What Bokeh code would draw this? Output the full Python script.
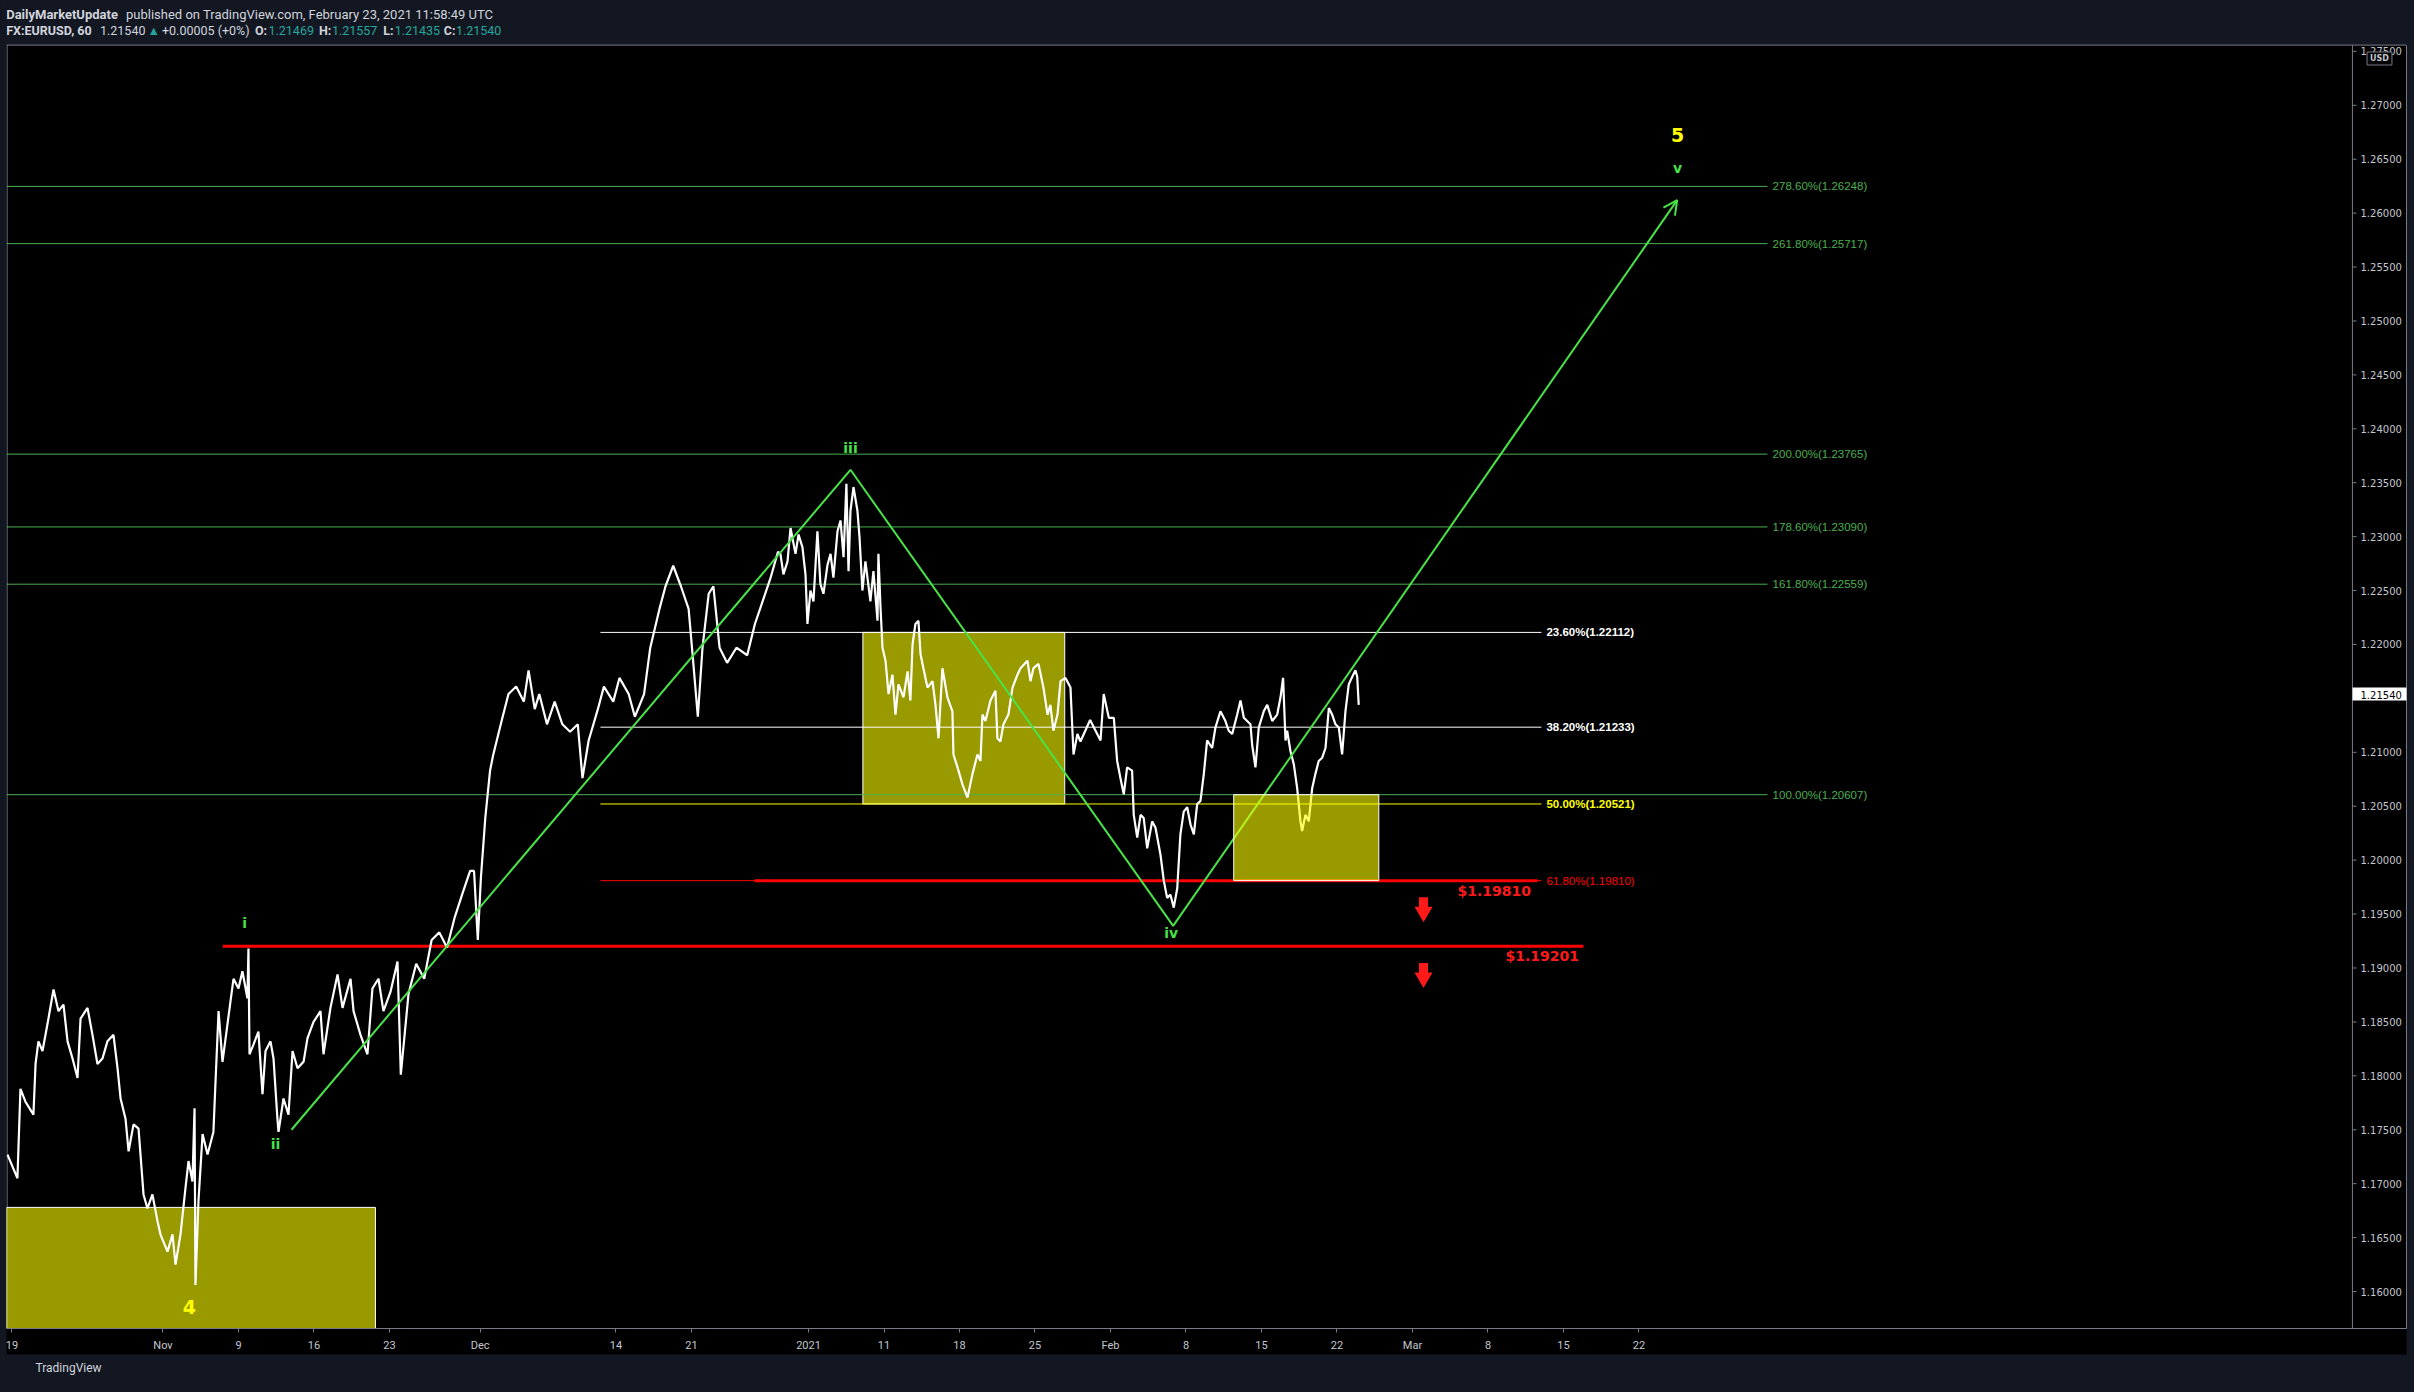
from bokeh.plotting import figure
from bokeh.models import (Range1d, FixedTicker, PrintfTickFormatter, Label, Arrow,
                          OpenHead, GlobalInlineStyleSheet, Title)
from bokeh.embed import file_html
from bokeh.resources import INLINE

# ---------------- data ----------------
# x = trading days since Mon 19 Oct 2020 (chart position), y = EURUSD price
price_day = [-0.30, 0.36, 0.56, 0.89, 1.42, 1.56, 1.75, 2.02, 2.35, 2.75, 3.08, 3.41, 3.68, 4.01,
             4.34, 4.54, 5.00, 5.33, 5.66, 5.99, 6.32, 6.72, 6.99, 7.19, 7.52, 7.72, 8.05, 8.38,
             8.71, 8.97, 9.30, 9.64, 9.83, 10.30, 10.63, 10.83, 11.16, 11.49, 11.69, 11.95, 12.09,
             12.15, 12.35, 12.62, 12.95, 13.34, 13.48, 13.68, 13.94, 14.47, 14.67, 15.00, 15.26,
             15.59, 15.66, 15.73, 15.99, 16.32, 16.59, 16.79, 17.12, 17.32, 17.58, 17.65, 17.98,
             18.31, 18.58, 18.91, 19.31, 19.57, 19.97, 20.43, 20.63, 21.09, 21.56, 21.89, 22.42,
             22.62, 23.08, 23.54, 23.87, 24.27, 24.60, 25.07, 25.53, 25.75, 26.26, 26.77, 27.30,
             27.79, 28.30, 28.81, 29.32, 29.83, 30.34, 30.60, 30.85, 31.05, 31.35, 31.66, 31.86,
             32.37, 32.88, 33.39, 33.90, 34.21, 34.62, 34.92, 35.43, 35.94, 36.45, 36.96, 37.47,
             37.78, 38.19, 38.80, 39.20, 39.82, 40.23, 40.84, 41.25, 41.86, 42.27, 42.88, 43.28,
             43.79, 44.30, 44.81, 45.12, 45.42, 45.73, 46.14, 46.45, 46.86, 47.36, 47.98, 48.69,
             49.20, 49.71, 50.22, 50.73, 50.89, 51.09, 51.36, 51.56, 51.89, 52.09, 52.35, 52.55,
             52.68, 52.88, 53.08, 53.34, 53.54, 53.74, 54.01, 54.21, 54.40, 54.67, 54.87, 55.07,
             55.26, 55.40, 55.53, 55.73, 55.99, 56.13, 56.32, 56.52, 56.85, 57.05, 57.32, 57.38,
             57.52, 57.65, 57.85, 58.05, 58.31, 58.51, 58.71, 59.04, 59.31, 59.50, 59.64, 59.83,
             60.03, 60.17, 60.36, 60.63, 60.96, 61.16, 61.36, 61.62, 61.95, 62.28, 62.35, 62.62,
             62.95, 63.28, 63.61, 63.94, 64.14, 64.27, 64.47, 64.80, 65.13, 65.26, 65.46, 65.66,
             65.99, 66.26, 66.59, 66.79, 67.25, 67.45, 67.65, 67.98, 68.31, 68.58, 68.77, 68.97,
             69.24, 69.44, 69.77, 70.10, 70.30, 70.56, 70.76, 71.40, 72.09, 72.30, 72.64, 72.97,
             73.19, 73.41, 73.63, 73.85, 74.18, 74.29, 74.52, 74.74, 74.95, 75.18, 75.51, 75.73,
             76.06, 76.28, 76.50, 76.72, 76.94, 77.17, 77.38, 77.60, 77.83, 78.05, 78.27, 78.49,
             78.71, 78.93, 79.15, 79.48, 79.70, 80.03, 80.36, 80.58, 80.81, 81.14, 81.36, 81.58,
             81.80, 82.02, 82.13, 82.35, 82.57, 82.90, 83.13, 83.46, 83.79, 84.01, 84.18, 84.34,
             84.45, 84.67, 84.89, 85.11, 85.33, 85.44, 85.66, 85.88, 86.11, 86.32, 86.54, 86.77,
             86.99, 87.21, 87.43, 87.65, 87.87, 88.09, 88.31, 88.53, 88.76, 88.97, 89.09, 89.19]
price_val = [1.1727, 1.1705, 1.1788, 1.1776, 1.1764, 1.1811, 1.1832, 1.1823, 1.1848, 1.1880, 1.1860,
             1.1866, 1.1832, 1.1816, 1.1798, 1.1853, 1.1863, 1.1838, 1.1811, 1.1816, 1.1832, 1.1838,
             1.1807, 1.1779, 1.1760, 1.1730, 1.1755, 1.1751, 1.1690, 1.1677, 1.1690, 1.1665, 1.1653,
             1.1637, 1.1653, 1.1625, 1.1653, 1.1696, 1.1721, 1.1702, 1.1770, 1.1606, 1.1684, 1.1746,
             1.1727, 1.1748, 1.1795, 1.1860, 1.1813, 1.1869, 1.1890, 1.1881, 1.1897, 1.1872, 1.1918,
             1.1820, 1.1829, 1.1841, 1.1783, 1.1823, 1.1832, 1.1816, 1.1760, 1.1748, 1.1779, 1.1764,
             1.1823, 1.1807, 1.1813, 1.1835, 1.1850, 1.1860, 1.1820, 1.1863, 1.1894, 1.1863, 1.1890,
             1.1860, 1.1838, 1.1820, 1.1881, 1.1890, 1.1860, 1.1878, 1.1906, 1.1801, 1.1876, 1.1904,
             1.1890, 1.1926, 1.1933, 1.1919, 1.1947, 1.1969, 1.1990, 1.1990, 1.1926, 1.1983, 1.2040,
             1.2083, 1.2097, 1.2126, 1.2154, 1.2161, 1.2147, 1.2176, 1.2140, 1.2154, 1.2126, 1.2147,
             1.2126, 1.2119, 1.2126, 1.2076, 1.2111, 1.2140, 1.2161, 1.2147, 1.2169, 1.2154, 1.2133,
             1.2154, 1.2197, 1.2233, 1.2254, 1.2273, 1.2254, 1.2233, 1.2183, 1.2133, 1.2197, 1.2247,
             1.2254, 1.2197, 1.2183, 1.2197, 1.2190, 1.2219, 1.2240, 1.2261, 1.2286, 1.2284, 1.2265,
             1.2277, 1.2308, 1.2284, 1.2302, 1.2290, 1.2265, 1.2219, 1.2250, 1.2240, 1.2305, 1.2256,
             1.2247, 1.2274, 1.2284, 1.2262, 1.2305, 1.2315, 1.2281, 1.2349, 1.2268, 1.2324, 1.2346,
             1.2324, 1.2299, 1.2250, 1.2277, 1.2240, 1.2268, 1.2222, 1.2284, 1.2234, 1.2197, 1.2185,
             1.2154, 1.2172, 1.2135, 1.2163, 1.2151, 1.2175, 1.2148, 1.2200, 1.2219, 1.2222, 1.2191,
             1.2178, 1.2160, 1.2166, 1.2144, 1.2113, 1.2178, 1.2151, 1.2138, 1.2098, 1.2086, 1.2070,
             1.2058, 1.2080, 1.2098, 1.2092, 1.2135, 1.2129, 1.2148, 1.2157, 1.2113, 1.2110, 1.2126,
             1.2135, 1.2160, 1.2172, 1.2178, 1.2185, 1.2166, 1.2178, 1.2182, 1.2160, 1.2135, 1.2144,
             1.2120, 1.2135, 1.2166, 1.2169, 1.2160, 1.2098, 1.2117, 1.2110, 1.2130, 1.2111, 1.2154,
             1.2132, 1.2132, 1.2092, 1.2076, 1.2061, 1.2086, 1.2083, 1.2042, 1.2021, 1.2042, 1.2039,
             1.2011, 1.2036, 1.2030, 1.2005, 1.1981, 1.1965, 1.1968, 1.1956, 1.1974, 1.2024, 1.2045,
             1.2049, 1.2033, 1.2024, 1.2052, 1.2055, 1.2080, 1.2111, 1.2104, 1.2123, 1.2138, 1.2129,
             1.2120, 1.2117, 1.2135, 1.2148, 1.2132, 1.2129, 1.2126, 1.2107, 1.2086, 1.2123, 1.2138,
             1.2144, 1.2129, 1.2135, 1.2151, 1.2169, 1.2111, 1.2120, 1.2101, 1.2089, 1.2067, 1.2036,
             1.2027, 1.2042, 1.2036, 1.2067, 1.2080, 1.2092, 1.2095, 1.2104, 1.2141, 1.2135, 1.2126,
             1.2123, 1.2098, 1.2138, 1.2163, 1.2170, 1.2176, 1.2170, 1.2144]
last_price = 1.21540

price_ticks = [1.160, 1.165, 1.170, 1.175, 1.180, 1.185, 1.190, 1.195, 1.200, 1.205, 1.210,
               1.220, 1.225, 1.230, 1.235, 1.240, 1.245, 1.250, 1.255, 1.260, 1.265, 1.270, 1.275]
time_tick_pos = [0, 10, 15, 20, 25, 31, 40, 45, 52.75, 57.75, 62.75, 67.75, 72.75, 77.75,
                 82.75, 87.75, 92.75, 97.75, 102.75, 107.75]
time_tick_labels = ["19", "Nov", "9", "16", "23", "Dec", "14", "21", "2021", "11", "18", "25",
                    "Feb", "8", "15", "22", "Mar", "8", "15", "22"]

ext_names = ["278.60%", "261.80%", "200.00%", "178.60%", "161.80%", "100.00%"]
ext_values = [1.26248, 1.25717, 1.23765, 1.23090, 1.22559, 1.20607]
ret_names = ["23.60%", "38.20%", "50.00%", "61.80%"]
ret_values = [1.22112, 1.21233, 1.20521, 1.19810]
support_values = [1.19810, 1.19201]

wave_day = [18.51, 55.53, 76.90, 110.28]
wave_price = [1.1750, 1.2362, 1.1939, 1.2612]
wave_labels = ["i", "ii", "iii", "iv", "v"]
wave_label_day = [15.4, 17.45, 55.53, 76.77, 110.3]
wave_label_price = [1.1942, 1.1737, 1.2382, 1.1932, 1.2642]
degree_labels = ["4", "5"]
degree_label_day = [11.75, 110.3]
degree_label_price = [1.1586, 1.2672]

box_left = [-0.364, 56.35, 80.91]
box_right = [24.07, 69.72, 90.52]
box_top = [1.1678, 1.22112, 1.20607]
box_bottom = [1.1500, 1.20521, 1.19810]

arrow_day = [93.48, 93.48]
arrow_price = [1.19560, 1.18950]

header1 = [("DailyMarketUpdate", 5.7, "bold", "#d1d4dc"),
           ("published on TradingView.com, February 23, 2021 11:58:49 UTC", 125.5, "normal", "#d1d4dc")]
header2 = [("FX:EURUSD, 60", 5.7, "bold", "#d1d4dc"), ("1.21540", 99.5, "normal", "#d1d4dc"),
           ("\u25b2", 147.0, "normal", "#26a69a"), ("+0.00005 (+0%)", 161.5, "normal", "#d1d4dc"),
           ("O:", 254.5, "bold", "#d1d4dc"), ("1.21469", 268.0, "normal", "#26a69a"),
           ("H:", 318.4, "bold", "#d1d4dc"), ("1.21557", 331.4, "normal", "#26a69a"),
           ("L:", 382.7, "bold", "#d1d4dc"), ("1.21435", 394.2, "normal", "#26a69a"),
           ("C:", 443.2, "bold", "#d1d4dc"), ("1.21540", 455.4, "normal", "#26a69a")]

# ---------------- styling ----------------
NAVY = "#131722"
GRID = "#787b86"
AXTXT = "#c3c6ce"
FIBG = "#4caf50"
WAVEG = "#47e347"
W, H = 2414, 1392
FL, FB = 6, 1328   # frame left / bottom on the canvas

# chart-area limits (price pane) in data units
X_LEFT, X_PANE, X_RIGHT = -0.364, 155.0, 158.58
Y_BOT, Y_PANE_TOP, Y_TOP = 1.15657, 1.27558, 1.279716


def sx(cx):
    return cx - FL


def sy(cy):
    return FB - cy


p = figure(width=W, height=H, output_backend="svg", toolbar_location=None,
           x_range=Range1d(X_LEFT, X_RIGHT), y_range=Range1d(Y_BOT, Y_TOP),
           y_axis_location="right",
           min_border_left=6, min_border_right=8, min_border_top=0, min_border_bottom=64,
           background_fill_color=NAVY, border_fill_color=NAVY, outline_line_color=None)
p.stylesheets = [GlobalInlineStyleSheet(css="html, body {margin:0 !important; padding:0; background:#131722; overflow:hidden;}")]
p.grid.visible = False

ya = p.yaxis[0]
ya.ticker = FixedTicker(ticks=price_ticks)
ya.formatter = PrintfTickFormatter(format="%.5f")
ya.bounds = (Y_BOT, Y_PANE_TOP)
ya.major_label_text_color = AXTXT
ya.major_label_text_font = "DejaVu Sans"
ya.major_label_text_font_size = "10px"
ya.major_tick_out = 0
ya.major_tick_in = 0
ya.minor_tick_line_color = None
ya.major_tick_line_color = None
ya.axis_line_color = GRID
ya.major_label_standoff = -46

xa = p.xaxis[0]
xa.ticker = FixedTicker(ticks=time_tick_pos)
xa.major_label_overrides = {t: l for t, l in zip(time_tick_pos, time_tick_labels)}
xa.major_label_text_color = AXTXT
xa.major_label_text_font = "Roboto"
xa.major_label_text_font_size = "11px"
xa.major_tick_out = 4
xa.major_tick_in = 0
xa.minor_tick_line_color = None
xa.major_tick_line_color = GRID
xa.axis_line_color = GRID
xa.major_label_standoff = 6
xa.background_fill_color = "black"

# black chart pane and its frame lines
p.quad(left=[X_LEFT], right=[X_RIGHT], top=[Y_PANE_TOP], bottom=[Y_BOT], fill_color="black", line_color=None)
p.segment(x0=[X_LEFT, X_LEFT + 0.04, X_PANE], x1=[X_RIGHT, X_LEFT + 0.04, X_PANE],
          y0=[Y_PANE_TOP, Y_BOT, Y_BOT], y1=[Y_PANE_TOP, Y_PANE_TOP, Y_PANE_TOP],
          line_color=GRID, line_width=1)
# price-scale tick marks
p.segment(x0=[X_PANE] * len(price_ticks), x1=[X_PANE + 0.27] * len(price_ticks),
          y0=price_ticks, y1=price_ticks, line_color=GRID, line_width=1)

# boxes behind price
for i in range(2):
    p.quad(left=[box_left[i]], right=[box_right[i]], top=[box_top[i]], bottom=[box_bottom[i]],
           fill_color="#ffff00", fill_alpha=0.6, line_color="white", line_width=1)

# fib extension lines (green)
p.segment(x0=[X_LEFT] * len(ext_values), x1=[116.26] * len(ext_values), y0=ext_values, y1=ext_values,
          line_color=FIBG, line_width=1)
# fib retracement lines
ret_colors = ["#ffffff", "#ffffff", "#ffff00", "#ff0000"]
p.segment(x0=[38.97] * 4, x1=[101.29] * 4, y0=ret_values, y1=ret_values,
          line_color=ret_colors, line_width=1)
# thick red supports
p.segment(x0=[49.17, 13.96], x1=[101.03, 104.07], y0=support_values, y1=support_values,
          line_color="#ff0000", line_width=3)

# price
p.line(price_day, price_val, line_color="white", line_width=2.2)

# wave path
p.line(wave_day, wave_price, line_color=WAVEG, line_width=2)

# box over price
p.quad(left=[box_left[2]], right=[box_right[2]], top=[box_top[2]], bottom=[box_bottom[2]],
       fill_color="#ffff00", fill_alpha=0.6, line_color="white", line_width=1)

# arrow head
p.add_layout(Arrow(end=OpenHead(size=14, line_color=WAVEG, line_width=2),
                   x_start=wave_day[2], y_start=wave_price[2], x_end=wave_day[3], y_end=wave_price[3],
                   line_alpha=0))

# red down arrows
p.rect(x=arrow_day, y=[v + 0.00045 for v in arrow_price], width=9, height=11,
       width_units="screen", height_units="screen", fill_color="#ff1a1a", line_color=None)
p.scatter(x=arrow_day, y=[v - 0.0004 for v in arrow_price], marker="inverted_triangle", size=18,
          fill_color="#ff1a1a", line_color=None)

# fib labels
for n, v in zip(ext_names, ext_values):
    p.add_layout(Label(x=116.6, y=v, text=f"{n}({v:.5f})", text_color=FIBG, text_font="Liberation Sans",
                       text_font_size="11.5px", text_baseline="middle", text_align="left"))
ret_weights = ["bold", "bold", "bold", "normal"]
for n, v, c, wgt in zip(ret_names, ret_values, ret_colors, ret_weights):
    p.add_layout(Label(x=101.62, y=v, text=f"{n}({v:.5f})", text_color=c, text_font="Liberation Sans",
                       text_font_size="11.5px", text_font_style=wgt, text_baseline="middle", text_align="left"))

p.add_layout(Label(x=95.73, y=1.19712, text=f"${support_values[0]:.5f}", text_color="#ff1a1a",
                   text_font="DejaVu Sans", text_font_style="bold", text_font_size="14px",
                   text_baseline="middle", text_align="left"))
p.add_layout(Label(x=98.91, y=1.19109, text=f"${support_values[1]:.5f}", text_color="#ff1a1a",
                   text_font="DejaVu Sans", text_font_style="bold", text_font_size="14px",
                   text_baseline="middle", text_align="left"))

# wave labels
for t, d, v in zip(wave_labels, wave_label_day, wave_label_price):
    p.add_layout(Label(x=d, y=v, text=t, text_color=WAVEG, text_font="DejaVu Sans",
                       text_font_size="14px", text_font_style="bold",
                       text_align="center", text_baseline="middle"))
for t, d, v in zip(degree_labels, degree_label_day, degree_label_price):
    p.add_layout(Label(x=d, y=v, text=t, text_color="#ffff00", text_font="DejaVu Sans",
                       text_font_size="19px", text_font_style="bold",
                       text_align="center", text_baseline="middle"))

# header
for t, cx, wgt, col in header1:
    p.add_layout(Label(x=sx(cx), y=sy(14), x_units="screen", y_units="screen", text=t,
                       text_color=col, text_font="Roboto", text_font_size="13px",
                       text_font_style=wgt, text_baseline="middle", text_align="left"))
for t, cx, wgt, col in header2:
    p.add_layout(Label(x=sx(cx), y=sy(30), x_units="screen", y_units="screen", text=t,
                       text_color=col, text_font="Roboto", text_font_size="12.5px",
                       text_font_style=wgt, text_baseline="middle", text_align="left"))

# last price badge on the price scale
p.add_layout(Label(x=sx(2352), y=last_price, x_units="screen", y_units="data", text=f"{last_price:.5f}",
                   text_color="black", text_font="DejaVu Sans", text_font_size="10px",
                   text_baseline="middle", text_align="left", background_fill_color="white",
                   padding=dict(left=8, right=7, top=3, bottom=2)))
# currency badge
p.add_layout(Label(x=sx(2379), y=sy(58), x_units="screen", y_units="screen", text="USD",
                   text_color=AXTXT, text_font="DejaVu Sans", text_font_size="8px", text_font_style="bold",
                   text_baseline="middle", text_align="center", background_fill_color="black",
                   border_line_color=GRID, padding=dict(left=3, right=3, top=2, bottom=2)))

# footer
p.add_layout(Title(text="TradingView", align="left", offset=29, standoff=8, text_color="#d1d4dc",
                   text_font="Roboto", text_font_size="12px", text_font_style="normal"), "below")

open("out.html", "w").write(file_html(p, INLINE))
